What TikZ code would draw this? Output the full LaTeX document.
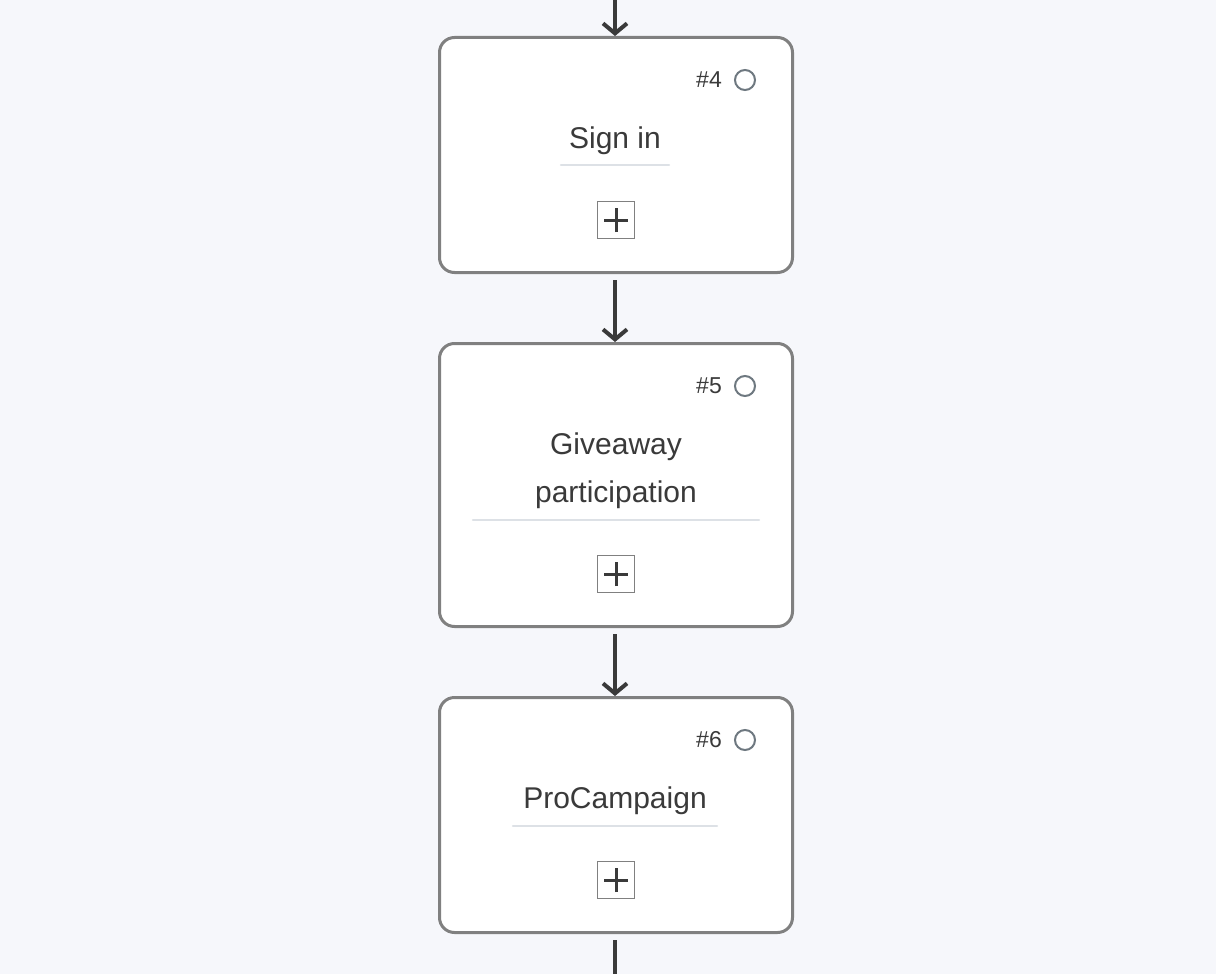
\documentclass[tikz,border=0pt]{standalone}
\usepackage{fontspec}
\setmainfont{Liberation Sans}
\usetikzlibrary{arrows.meta}

\definecolor{pagebg}{HTML}{F6F7FB}
\definecolor{cardline}{HTML}{808080}
\definecolor{inkgray}{HTML}{3A3A3A}
\definecolor{ringgray}{HTML}{6E7880}
\definecolor{fieldgray}{HTML}{DDE1E6}

\begin{document}
\begin{tikzpicture}[x=1pt,y=-1pt,
  >={Straight Barb[length=10pt,width=24pt]},
  stepcard/.style={draw=cardline, line width=3pt, fill=white, rounded corners=15pt,
    minimum width=353pt, inner sep=0pt},
  link/.style={draw=inkgray, line width=4pt},
  stepnum/.style={text=inkgray, font=\fontsize{23}{26}\selectfont, inner sep=0pt},
  status/.style={draw=ringgray, line width=2pt, circle, minimum size=20pt, inner sep=0pt},
  steptext/.style={text=inkgray, font=\fontsize{30}{48}\selectfont, align=center, inner sep=0pt},
  fieldline/.style={draw=fieldgray, line width=2pt, line cap=round},
  addbtn/.style={draw=cardline, line width=1.8pt, minimum size=37pt, inner sep=0pt,
    path picture={
      \draw[inkgray, line width=3pt]
        ([xshift=-12pt]path picture bounding box.center) -- ([xshift=12pt]path picture bounding box.center)
        ([yshift=-12pt]path picture bounding box.center) -- ([yshift=12pt]path picture bounding box.center);
    }},
]
\useasboundingbox (0,0) rectangle (1216,974);
\fill[pagebg] (0,0) rectangle (1216,974);

\coordinate (top) at (615,0);
\coordinate (bottom) at (615,974);

% step cards
\node[stepcard, minimum height=235pt] (s4) at (616,155) {};
\node[stepcard, minimum height=283pt] (s5) at (616,485) {};
\node[stepcard, minimum height=235pt] (s6) at (616,815) {};

% step 4
\node[stepnum] (n4) at (709,80) {\#4};
\node[status] (c4) at (745,80) {};
\node[steptext, minimum width=108pt, minimum height=48pt] (t4) at (615,141) {Sign in};
\draw[fieldline] (t4.south west) -- (t4.south east);
\node[addbtn] (p4) at (616,220) {};

% step 5
\node[stepnum] (n5) at (709,386) {\#5};
\node[status] (c5) at (745,386) {};
\node[steptext, minimum width=286pt, minimum height=98pt] (t5) at (616,471) {Giveaway\\participation};
\draw[fieldline] (t5.south west) -- (t5.south east);
\node[addbtn] (p5) at (616,574) {};

% step 6
\node[stepnum] (n6) at (709,740) {\#6};
\node[status] (c6) at (745,740) {};
\node[steptext, minimum width=204pt, minimum height=50pt] (t6) at (615,801) {ProCampaign};
\draw[fieldline] (t6.south west) -- (t6.south east);
\node[addbtn] (p6) at (616,880) {};

% connectors
\draw[link,->] (top) -- (s4.north -| top);
\draw[link,->,shorten <=6pt] (s4.south -| top) -- (s5.north -| top);
\draw[link,->,shorten <=6pt] (s5.south -| top) -- (s6.north -| top);
\draw[link,shorten <=6pt] (s6.south -| bottom) -- (bottom);
\end{tikzpicture}
\end{document}
